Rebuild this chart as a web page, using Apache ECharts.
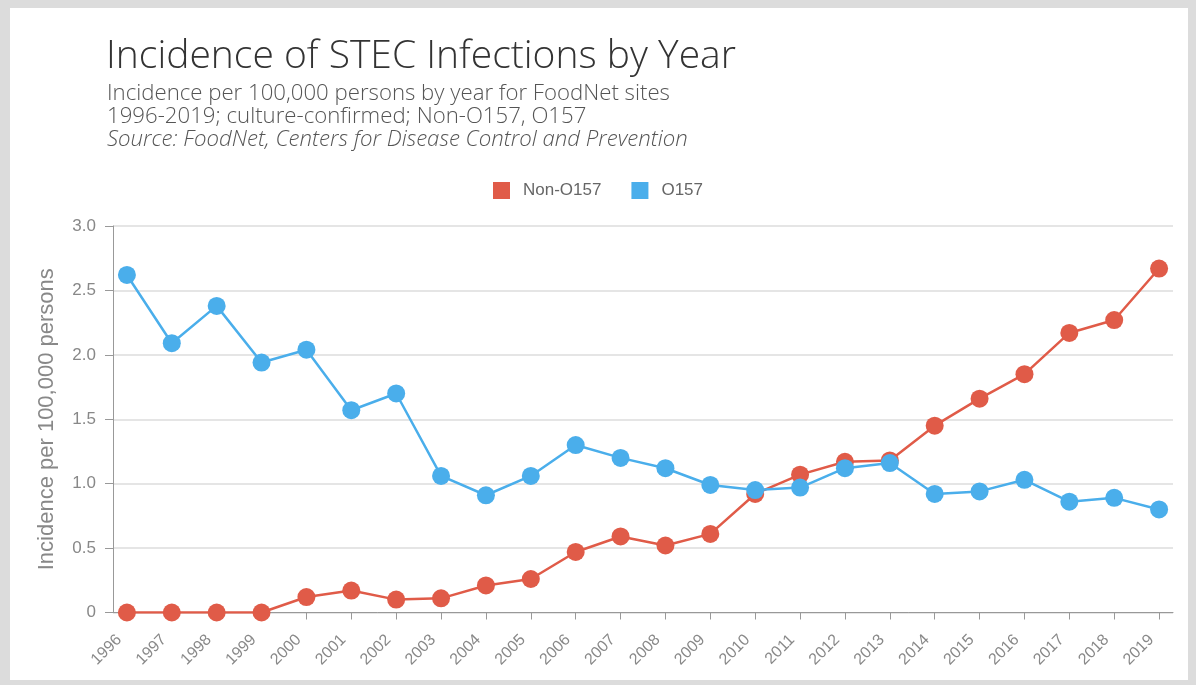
<!DOCTYPE html>
<html>
<head>
<meta charset="utf-8">
<script src="https://cdn.jsdelivr.net/npm/echarts@6/dist/echarts.min.js"></script>
<style>
html,body{margin:0;padding:0;background:#dcdcdc;width:1196px;height:685px;overflow:hidden;}
#frame{position:absolute;left:10px;top:8px;width:1178px;height:672px;background:#fff;}
#chart{position:absolute;left:0;top:0;width:1196px;height:685px;}
</style>
</head>
<body>
<div id="frame"></div>
<div id="chart"></div>
<script>
const years = [1996,1997,1998,1999,2000,2001,2002,2003,2004,2005,2006,2007,2008,2009,2010,2011,2012,2013,2014,2015,2016,2017,2018,2019];
const nonO157 = [0,0,0,0,0.12,0.17,0.10,0.11,0.21,0.26,0.47,0.59,0.52,0.61,0.92,1.07,1.17,1.18,1.45,1.66,1.85,2.17,2.27,2.67];
const o157 = [2.62,2.09,2.38,1.94,2.04,1.57,1.70,1.06,0.91,1.06,1.30,1.20,1.12,0.99,0.95,0.97,1.12,1.16,0.92,0.94,1.03,0.86,0.89,0.80];
const yTicks = [0,0.5,1.0,1.5,2.0,2.5,3.0];
const seriesNames = ['Non-O157','O157'];

const RED = '#e05b48';
const BLUE = '#4aaeeb';
const FONT = '"Liberation Sans", "Helvetica Neue", Arial, sans-serif';
const LIGHT = '"Open Sans", "Liberation Sans", sans-serif';

const chart = echarts.init(document.getElementById('chart'), null, {renderer:'canvas'});
chart.setOption({
  backgroundColor: 'transparent',
  animation: false,
  title: [
    {text:'Incidence of STEC Infections by Year', left:106, top:37, padding:0,
     textStyle:{fontFamily:LIGHT, fontSize:39, fontWeight:300, color:'#333'}},
    {text:'Incidence per 100,000 persons by year for FoodNet sites\n1996-2019; culture-confirmed; Non-O157, O157', left:107, top:82, padding:0,
     textStyle:{fontFamily:LIGHT, fontSize:22.2, fontWeight:300, color:'#555', lineHeight:23}},
    {text:'Source: FoodNet, Centers for Disease Control and Prevention', left:107, top:128, padding:0,
     textStyle:{fontFamily:LIGHT, fontSize:22.2, fontWeight:300, fontStyle:'italic', color:'#555', lineHeight:23}}
  ],
  legend: {
    data: seriesNames, top:182, left:'center', icon:'rect', itemWidth:17, itemHeight:17, itemGap:30, padding:0,
    textStyle:{fontFamily:FONT, fontSize:17, color:'#666', padding:[0,0,0,8]}
  },
  grid: {left:113, right:23, top:226, bottom:72.5, containLabel:false},
  xAxis: {
    type:'value', min:1995.69, max:2019.31,
    axisLine:{show:true, lineStyle:{color:'#999', width:1}},
    axisTick:{show:true, customValues: years, length:7, lineStyle:{color:'#999'}},
    axisLabel:{customValues: years, rotate:45, margin:17, padding:[0,11,0,0], color:'#888', fontFamily:FONT, fontSize:16,
               formatter: v => String(v)},
    splitLine:{show:false}
  },
  yAxis: {
    type:'value', min:0, max:3, interval:0.5,
    name:'Incidence per 100,000 persons', nameLocation:'middle', nameGap:55,
    nameTextStyle:{fontFamily:FONT, fontSize:22, color:'#888'},
    axisLine:{show:true, lineStyle:{color:'#999', width:1}},
    axisTick:{show:true, length:8, lineStyle:{color:'#999'}},
    axisLabel:{color:'#888', fontFamily:FONT, fontSize:17, margin:17,
               formatter: v => v === 0 ? '0' : v.toFixed(1)},
    splitLine:{show:true, lineStyle:{color:'#dddddd', width:1.5}}
  },
  series: [
    {name:seriesNames[0], type:'line', data: years.map((y,i)=>[y, nonO157[i]]),
     symbol:'circle', symbolSize:18, color:RED, lineStyle:{width:2.5, color:RED}, itemStyle:{color:RED}},
    {name:seriesNames[1], type:'line', data: years.map((y,i)=>[y, o157[i]]),
     symbol:'circle', symbolSize:18, color:BLUE, lineStyle:{width:2.5, color:BLUE}, itemStyle:{color:BLUE}}
  ]
});
</script>
</body>
</html>
